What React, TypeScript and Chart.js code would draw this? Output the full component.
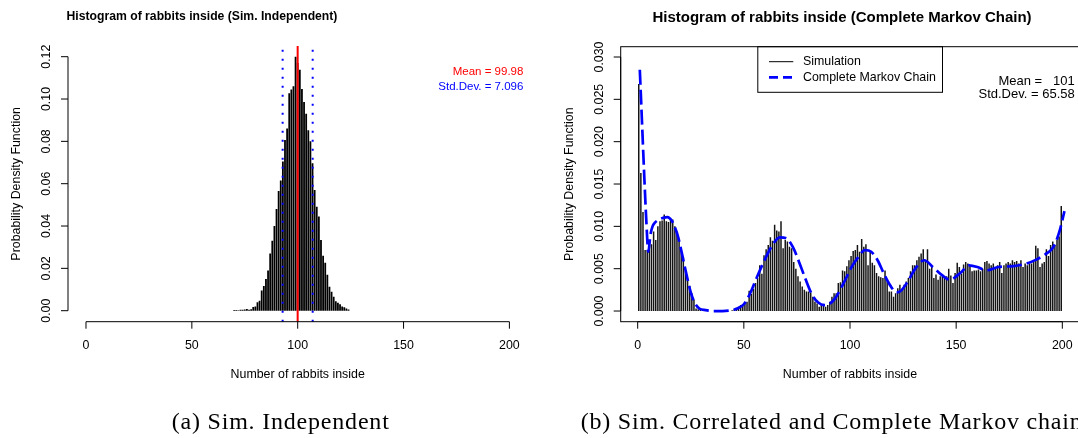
import React, { useEffect, useRef } from "react";
import { Chart, registerables } from "chart.js";

Chart.register(...registerables);

// ---------------- Data ----------------
// Left panel: Sim. Independent (bins centred on integers)
const indepFirstBin = 70;
const indepDensity = [
  0.0003, 0.0003, 0.0002, 0.0005, 0.0004, 0.0006, 0.0008, 0.0004, 0.0007, 0.0018,
  0.0020, 0.0040, 0.0047, 0.0095, 0.0117, 0.0150, 0.0190, 0.0270, 0.0330, 0.0400,
  0.0480, 0.0565, 0.0615, 0.0705, 0.0806, 0.0861, 0.1027, 0.1045, 0.1060, 0.1200,
  0.1170, 0.1138, 0.1047, 0.0986, 0.0931, 0.0853, 0.0800, 0.0696, 0.0570, 0.0491,
  0.0445, 0.0334, 0.0260, 0.0227, 0.0170, 0.0113, 0.0090, 0.0066, 0.0045, 0.0038,
  0.0030, 0.0020, 0.0016, 0.0010, 0.0006,
];
const indepMean = 99.98;
const indepSd = 7.096;

// Right panel: Sim. Correlated (bins [k, k+1))
const corrFirstBin = 0;
const corrDensity = [
  0.0268, 0.0163, 0.0117, 0.0072, 0.0072, 0.0081, 0.0079, 0.0094, 0.0084, 0.0100,
  0.0106, 0.0107, 0.0114, 0.0106, 0.0105, 0.0109, 0.0108, 0.0100, 0.0090, 0.0084,
  0.0074, 0.0064, 0.0048, 0.0038, 0.0030, 0.0021, 0.0013, 0.0003, 0.0002, 0.0002,
  0.0001, 0, 0, 0, 0, 0, 0, 0, 0, 0,
  0, 0, 0, 0, 0.0001, 0.0002, 0.0004, 0.0005, 0.0007, 0.0008,
  0.0009, 0.0011, 0.0024, 0.0020, 0.0026, 0.0033, 0.0039, 0.0054, 0.0044, 0.0066,
  0.0073, 0.0078, 0.0087, 0.0083, 0.0102, 0.0095, 0.0094, 0.0106, 0.0074, 0.0084,
  0.0082, 0.0076, 0.0074, 0.0058, 0.0050, 0.0041, 0.0035, 0.0029, 0.0025, 0.0023,
  0.0023, 0.0022, 0.0017, 0.0011, 0.0009, 0.0005, 0.0007, 0.0008, 0.0005, 0.0007,
  0.0011, 0.0017, 0.0021, 0.0021, 0.0033, 0.0034, 0.0048, 0.0047, 0.0053, 0.0060,
  0.0065, 0.0071, 0.0072, 0.0078, 0.0070, 0.0085, 0.0076, 0.0079, 0.0054, 0.0070,
  0.0057, 0.0054, 0.0045, 0.0041, 0.0040, 0.0039, 0.0048, 0.0035, 0.0023, 0.0023,
  0.0017, 0.0021, 0.0027, 0.0031, 0.0025, 0.0031, 0.0035, 0.0039, 0.0047, 0.0054,
  0.0054, 0.0060, 0.0064, 0.0068, 0.0073, 0.0060, 0.0073, 0.0050, 0.0052, 0.0039,
  0.0043, 0.0037, 0.0041, 0.0041, 0.0039, 0.0041, 0.0050, 0.0042, 0.0033, 0.0045,
  0.0057, 0.0052, 0.0044, 0.0055, 0.0058, 0.0056, 0.0054, 0.0047, 0.0048, 0.0048,
  0.0049, 0.0047, 0.0050, 0.0058, 0.0059, 0.0056, 0.0054, 0.0056, 0.0050, 0.0054,
  0.0058, 0.0045, 0.0054, 0.0056, 0.0058, 0.0056, 0.0060, 0.0058, 0.0059, 0.0056,
  0.0060, 0.0052, 0.0056, 0.0054, 0.0056, 0.0056, 0.0058, 0.0077, 0.0074, 0.0052,
  0.0056, 0.0058, 0.0073, 0.0065, 0.0078, 0.0082, 0.0078, 0.0084, 0.0088, 0.0124,
];
// Complete Markov chain probabilities
const mcX = [
  1, 2, 3, 4, 5, 6, 7, 8, 10, 12, 14, 16, 17, 19, 21, 23, 25, 27, 29, 32,
  36, 40, 44, 47, 50, 53, 56, 59, 63, 67, 70, 73, 76, 79, 82, 85, 88, 90, 93, 97,
  101, 104, 107, 110, 113, 116, 119, 122, 124, 127, 131, 135, 139, 143, 147, 152, 156, 160, 164, 170,
  177, 183, 188, 192, 195, 197, 199, 201,
];
const mcY = [
  0.0285, 0.0225, 0.0165, 0.0110, 0.0070, 0.0090, 0.0100, 0.0104, 0.0108, 0.0110,
  0.0111, 0.0107, 0.0102, 0.0088, 0.0066, 0.0043, 0.0022, 0.0009, 0.0003, 0.0001,
  0.0000, 0.0000, 0.0001, 0.0003, 0.0008, 0.0021, 0.0039, 0.0056, 0.0076, 0.0087,
  0.0086, 0.0076, 0.0058, 0.0038, 0.0020, 0.0010, 0.0007, 0.0008, 0.0015, 0.0033,
  0.0053, 0.0064, 0.0072, 0.0070, 0.0060, 0.0044, 0.0030, 0.0022, 0.0024, 0.0034,
  0.0051, 0.0060, 0.0052, 0.0043, 0.0037, 0.0045, 0.0054, 0.0052, 0.0048, 0.0052,
  0.0053, 0.0056, 0.0061, 0.0067, 0.0073, 0.0082, 0.0097, 0.0118,
];
const corrMean = "101";
const corrSd = 65.58;

// Axes
const xTickValues = [0, 50, 100, 150, 200];
const xTickLabels = ["0", "50", "100", "150", "200"];
const indepYTicks = [0, 0.02, 0.04, 0.06, 0.08, 0.1, 0.12];
const indepYTickLabels = ["0.00", "0.02", "0.04", "0.06", "0.08", "0.10", "0.12"];
const corrYTicks = [0, 0.005, 0.01, 0.015, 0.02, 0.025, 0.03];
const corrYTickLabels = ["0.000", "0.005", "0.010", "0.015", "0.020", "0.025", "0.030"];

const titleLeft = "Histogram of rabbits inside (Sim. Independent)";
const titleRight = "Histogram of rabbits inside (Complete Markov Chain)";
const xAxisTitle = "Number of rabbits inside";
const yAxisTitle = "Probability Density Function";
const legendLabels = ["Simulation", "Complete Markov Chain"];
const captionA = "(a) Sim. Independent";
const captionB = "(b) Sim. Correlated and Complete Markov chain";

// ---------------- Drawing helpers ----------------
const FONT = '"Liberation Sans", Arial, Helvetica, sans-serif';

function rotText(ctx: CanvasRenderingContext2D, text: string, x: number, y: number) {
  ctx.save();
  ctx.translate(x, y);
  ctx.rotate(-Math.PI / 2);
  ctx.fillText(text, 0, 0);
  ctx.restore();
}

function drawAxes(
  ctx: CanvasRenderingContext2D,
  xs: any,
  ys: any,
  a: any,
  yt: number[],
  yl: string[]
) {
  ctx.strokeStyle = "#000";
  ctx.lineWidth = 1;
  ctx.setLineDash([]);
  const xb = a.bottom;
  const yx = a.left;
  ctx.beginPath();
  ctx.moveTo(xs.getPixelForValue(xTickValues[0]), xb);
  ctx.lineTo(xs.getPixelForValue(xTickValues[xTickValues.length - 1]), xb);
  for (const t of xTickValues) {
    const p = xs.getPixelForValue(t);
    ctx.moveTo(p, xb);
    ctx.lineTo(p, xb + 7);
  }
  ctx.moveTo(yx, ys.getPixelForValue(yt[0]));
  ctx.lineTo(yx, ys.getPixelForValue(yt[yt.length - 1]));
  for (const t of yt) {
    const p = ys.getPixelForValue(t);
    ctx.moveTo(yx, p);
    ctx.lineTo(yx - 7, p);
  }
  ctx.stroke();

  ctx.fillStyle = "#000";
  ctx.font = `12.4px ${FONT}`;
  ctx.textAlign = "center";
  ctx.textBaseline = "alphabetic";
  xTickValues.forEach((t, i) => ctx.fillText(xTickLabels[i], xs.getPixelForValue(t), xb + 27.6));
  ctx.textBaseline = "middle";
  yt.forEach((t, i) => rotText(ctx, yl[i], yx - 21.5, ys.getPixelForValue(t)));
  ctx.textBaseline = "alphabetic";
  ctx.fillText(xAxisTitle, (a.left + a.right) / 2, xb + 56.6);
  ctx.textBaseline = "middle";
  rotText(ctx, yAxisTitle, yx - 51.5, (a.top + a.bottom) / 2);
}

const leftDecor = {
  id: "leftDecor",
  afterDatasetsDraw(chart: any) {
    const ctx: CanvasRenderingContext2D = chart.ctx;
    const a = chart.chartArea;
    const xs = chart.scales.x;
    const ys = chart.scales.y;
    ctx.save();
    // mean ± sd (dotted blue)
    ctx.strokeStyle = "#0000ff";
    ctx.lineWidth = 2;
    ctx.setLineDash([2, 7]);
    for (const v of [indepMean - indepSd, indepMean + indepSd]) {
      const px = xs.getPixelForValue(v);
      ctx.beginPath();
      ctx.moveTo(px, a.bottom);
      ctx.lineTo(px, a.top + 2);
      ctx.stroke();
    }
    // mean (red)
    ctx.setLineDash([]);
    ctx.strokeStyle = "#ff0000";
    ctx.lineWidth = 2;
    const pm = xs.getPixelForValue(indepMean);
    ctx.beginPath();
    ctx.moveTo(pm, a.top);
    ctx.lineTo(pm, a.bottom);
    ctx.stroke();

    drawAxes(ctx, xs, ys, a, indepYTicks, indepYTickLabels);

    ctx.fillStyle = "#000";
    ctx.font = `bold 12.2px ${FONT}`;
    ctx.textAlign = "center";
    ctx.textBaseline = "alphabetic";
    ctx.fillText(titleLeft, 202, 20.3);

    ctx.font = `11.5px ${FONT}`;
    ctx.textAlign = "right";
    ctx.fillStyle = "#ff0000";
    ctx.fillText(`Mean = ${indepMean}`, 523.4, 74.8);
    ctx.fillStyle = "#0000ff";
    ctx.fillText(`Std.Dev. = ${indepSd}`, 523.4, 90.1);
    ctx.restore();
  },
};

const rightDecor = {
  id: "rightDecor",
  afterDatasetsDraw(chart: any) {
    const ctx: CanvasRenderingContext2D = chart.ctx;
    const a = chart.chartArea;
    const xs = chart.scales.x;
    const ys = chart.scales.y;
    ctx.save();
    ctx.strokeStyle = "#000";
    ctx.lineWidth = 1;
    ctx.setLineDash([]);
    ctx.strokeRect(a.left, a.top, a.right - a.left, a.bottom - a.top);

    drawAxes(ctx, xs, ys, a, corrYTicks, corrYTickLabels);

    ctx.fillStyle = "#000";
    ctx.font = `bold 15px ${FONT}`;
    ctx.textAlign = "center";
    ctx.textBaseline = "alphabetic";
    ctx.fillText(titleRight, 302, 21.5);

    ctx.font = `13px ${FONT}`;
    ctx.textAlign = "right";
    ctx.fillText(`Mean =   ${corrMean}`, 534.7, 85);
    ctx.fillText(`Std.Dev. = ${corrSd}`, 534.7, 98.3);

    // legend
    const lx0 = 217.8;
    const lx1 = 402.5;
    const ly1 = 92.3;
    ctx.strokeStyle = "#000";
    ctx.lineWidth = 1;
    ctx.strokeRect(lx0, a.top, lx1 - lx0, ly1 - a.top);
    const rows = [61.7, 77.3];
    const ds = chart.data.datasets;
    // Simulation sample
    ctx.beginPath();
    ctx.strokeStyle = "#000";
    ctx.lineWidth = 1;
    ctx.moveTo(229, rows[0]);
    ctx.lineTo(253.3, rows[0]);
    ctx.stroke();
    // Markov chain sample
    const mcDs = ds.find((d: any) => d.type === "line");
    ctx.beginPath();
    ctx.strokeStyle = mcDs ? mcDs.borderColor : "#0000ff";
    ctx.lineWidth = 2.7;
    ctx.setLineDash([9, 5]);
    ctx.moveTo(229, rows[1]);
    ctx.lineTo(253.3, rows[1]);
    ctx.stroke();
    ctx.setLineDash([]);
    ctx.fillStyle = "#000";
    ctx.font = `12.4px ${FONT}`;
    ctx.textAlign = "left";
    ctx.textBaseline = "middle";
    ctx.fillText(legendLabels[0], 263, rows[0]);
    ctx.fillText(legendLabels[1], 263, rows[1]);
    ctx.restore();
  },
};

function baseOptions(pad: any, xMin: number, xMax: number, yMin: number, yMax: number): any {
  return {
    responsive: false,
    animation: false,
    devicePixelRatio: 1,
    events: [],
    layout: { padding: pad },
    plugins: { legend: { display: false }, tooltip: { enabled: false }, title: { display: false } },
    scales: {
      x: { type: "linear", min: xMin, max: xMax, display: false, offset: false, grid: { offset: false } },
      y: { type: "linear", min: yMin, max: yMax, display: false },
    },
  };
}

export default function App() {
  const leftRef = useRef<HTMLCanvasElement | null>(null);
  const rightRef = useRef<HTMLCanvasElement | null>(null);

  useEffect(() => {
    const leftChart = new Chart(leftRef.current as HTMLCanvasElement, {
      type: "bar",
      data: {
        datasets: [
          {
            label: "Sim. Independent",
            data: indepDensity.map((v, i) => ({ x: indepFirstBin + i, y: v })),
            backgroundColor: "#000",
            borderWidth: 0,
            barPercentage: 0.85,
            categoryPercentage: 1,
          } as any,
        ],
      },
      options: baseOptions({ left: 68, top: 46, right: 12.6, bottom: 116.3 }, -8.5, 208.5, -0.0052, 0.12505),
      plugins: [leftDecor],
    });

    const rightChart = new Chart(rightRef.current as HTMLCanvasElement, {
      type: "bar",
      data: {
        datasets: [
          {
            type: "line",
            label: legendLabels[1],
            data: mcX.map((x, i) => ({ x, y: mcY[i] })),
            borderColor: "#0000ff",
            borderWidth: 2.7,
            borderDash: [15, 5],
            pointRadius: 0,
            fill: false,
            cubicInterpolationMode: "monotone",
            order: 0,
          } as any,
          {
            type: "bar",
            label: legendLabels[0],
            data: corrDensity.map((v, i) => ({ x: corrFirstBin + i + 0.5, y: v })),
            backgroundColor: "#141414",
            borderWidth: 0,
            barPercentage: 0.7,
            categoryPercentage: 1,
            order: 1,
          } as any,
        ],
      },
      options: baseOptions({ left: 80.7, top: 46.7, right: 20.7, bottom: 116.3 }, -8, 208, -0.00126, 0.031217),
      plugins: [rightDecor],
    });

    return () => {
      leftChart.destroy();
      rightChart.destroy();
    };
  }, []);

  const caption = (left: number): React.CSSProperties => ({
    position: "absolute",
    left,
    top: 409,
    fontFamily: '"Liberation Serif", "Times New Roman", serif',
    fontSize: 24,
    lineHeight: "24px",
    letterSpacing: "0.8px",
    whiteSpace: "nowrap",
    color: "#000",
  });

  return (
    <div
      style={{
        position: "absolute",
        left: 0,
        top: 0,
        width: 1078,
        height: 438,
        overflow: "hidden",
        background: "#fff",
      }}
    >
      <canvas
        ref={leftRef}
        width={540}
        height={438}
        style={{ position: "absolute", left: 0, top: 0, width: 540, height: 438 }}
      />
      <canvas
        ref={rightRef}
        width={560}
        height={438}
        style={{ position: "absolute", left: 540, top: 0, width: 560, height: 438 }}
      />
      <div style={caption(171.7)}>{captionA}</div>
      <div style={caption(580.7)}>{captionB}</div>
    </div>
  );
}
